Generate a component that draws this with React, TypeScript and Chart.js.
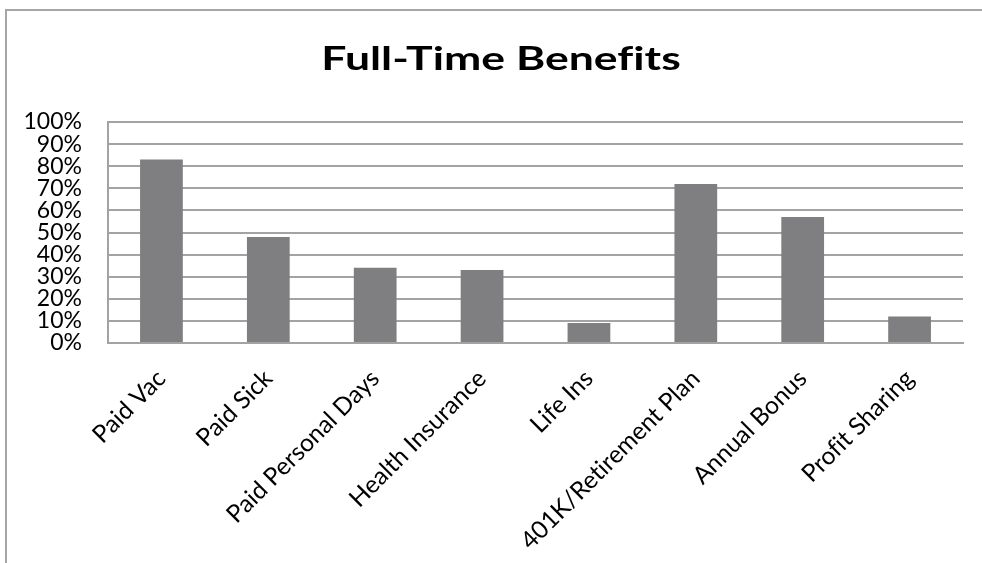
import React, { useEffect, useRef } from "react";
import { Chart, registerables } from "chart.js";

Chart.register(...registerables);

const categories = [
  "Paid Vac",
  "Paid Sick",
  "Paid Personal Days",
  "Health Insurance",
  "Life Ins",
  "401K/Retirement Plan",
  "Annual Bonus",
  "Profit Sharing",
];
const shares = [0.83, 0.48, 0.34, 0.33, 0.09, 0.72, 0.57, 0.12];
const titleText = "Full-Time Benefits";

const FONT = "Lato, 'Carlito', 'Liberation Sans', sans-serif";
const GRID = "#a3a3a3";

const noLigatures = {
  id: "noLigatures",
  beforeDraw(chart: any) {
    const ctx = chart.ctx as any;
    try {
      ctx.textRendering = "optimizeSpeed";
      ctx.letterSpacing = "0.01px";
    } catch (e) {}
  },
};

const frameAndTitle = {
  id: "frameAndTitle",
  beforeDraw(chart: any) {
    const ctx = chart.ctx as CanvasRenderingContext2D;
    ctx.save();
    ctx.fillStyle = "#fff";
    ctx.fillRect(0, 0, chart.width, chart.height);
    ctx.strokeStyle = "#a6a6a6";
    ctx.lineWidth = 2;
    ctx.beginPath();
    ctx.moveTo(6, chart.height);
    ctx.lineTo(6, 10);
    ctx.lineTo(chart.width, 10);
    ctx.stroke();
    ctx.restore();
  },
  afterDraw(chart: any) {
    const ctx = chart.ctx as CanvasRenderingContext2D;
    ctx.save();
    ctx.font = `bold 32.5px ${FONT}`;
    ctx.fillStyle = "#000";
    ctx.textAlign = "center";
    ctx.textBaseline = "alphabetic";
    ctx.translate(501, 69.5);
    ctx.scale(1.37, 1);
    ctx.fillText(titleText, 0, 0);
    ctx.restore();
  },
};

export default function App() {
  const ref = useRef<HTMLCanvasElement | null>(null);
  useEffect(() => {
    if (!ref.current) return;
    const chart = new Chart(ref.current, {
      type: "bar",
      data: {
        labels: categories,
        datasets: [
          {
            data: shares,
            backgroundColor: "#7f7f82",
            borderWidth: 0,
            categoryPercentage: 0.4,
            barPercentage: 1,
          },
        ],
      },
      plugins: [noLigatures, frameAndTitle],
      options: {
        animation: false,
        responsive: false,
        devicePixelRatio: 1,
        layout: { padding: { left: 0, right: 19, top: 122, bottom: 0 } },
        plugins: {
          legend: { display: false },
          tooltip: { enabled: false },
          title: { display: false, text: titleText },
        },
        scales: {
          x: {
            grid: { display: false, drawTicks: false },
            border: { display: true, color: GRID, width: 2 },
            ticks: {
              color: "#000",
              font: { family: FONT, size: 24.5 },
              maxRotation: 45,
              minRotation: 45,
              padding: 21,
              autoSkip: false,
            },
            afterFit: (s: any) => {
              s.height = 220;
            },
          },
          y: {
            min: 0,
            max: 1,
            grid: { color: GRID, lineWidth: 2, drawTicks: false },
            border: { display: true, color: GRID, width: 2 },
            ticks: {
              stepSize: 0.1,
              autoSkip: false,
              color: "#000",
              font: { family: FONT, size: 23 },
              padding: 26,
              callback: (v: any) => Math.round(Number(v) * 100) + "%",
            },
            afterFit: (s: any) => {
              s.width = 108;
            },
          },
        },
      },
    });
    return () => chart.destroy();
  }, []);
  return (
    <div style={{ position: "absolute", left: 0, top: 0, width: 982, height: 563, background: "#fff", overflow: "hidden" }}>
      <canvas ref={ref} width={982} height={563} style={{ position: "absolute", left: 0, top: 0 }} />
    </div>
  );
}
